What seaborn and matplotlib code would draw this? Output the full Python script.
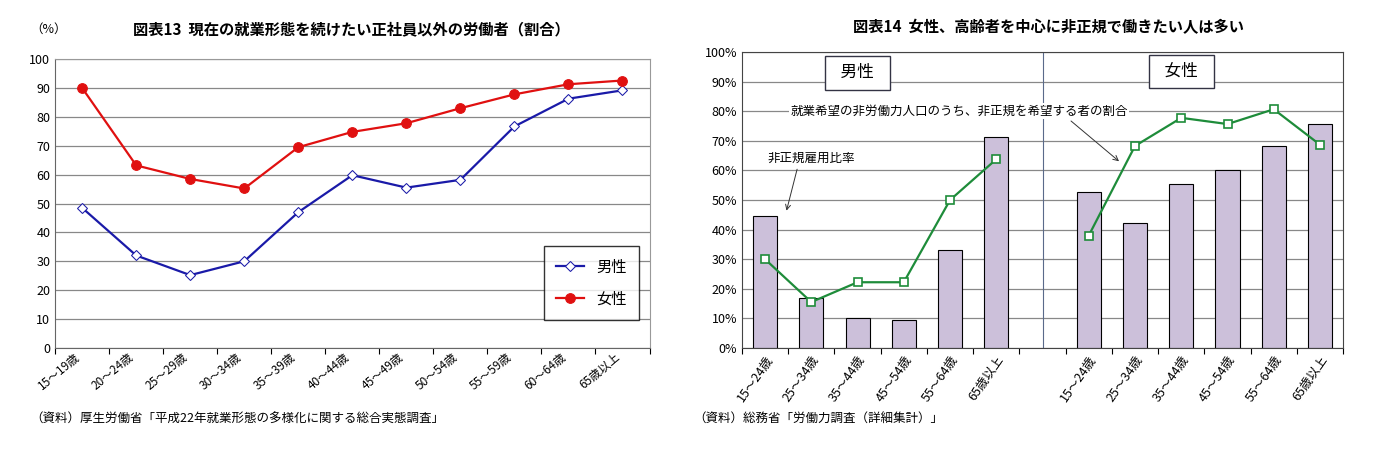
import matplotlib
matplotlib.use("Agg")
import matplotlib.pyplot as plt
import seaborn as sns
import numpy as np
import pandas as pd

plt.rcParams["font.family"] = ["Noto Sans CJK JP", "DejaVu Sans"]

# Left chart data
ages_left = ["15～19歳", "20～24歳", "25～29歳", "30～34歳", "35～39歳", "40～44歳",
             "45～49歳", "50～54歳", "55～59歳", "60～64歳", "65歳以上"]
male_left = [48.5, 32.0, 25.2, 30.0, 47.0, 59.8, 55.5, 58.2, 76.7, 86.3, 89.2]
female_left = [90.0, 63.2, 58.5, 55.2, 69.5, 74.8, 77.8, 83.0, 87.8, 91.3, 92.6]

# Right chart data
ages_right = ["15～24歳", "25～34歳", "35～44歳", "45～54歳", "55～64歳", "65歳以上"]
male_bar = [44.5, 17.0, 10.0, 9.5, 33.0, 71.3]
female_bar = [52.7, 42.2, 55.5, 60.0, 68.3, 75.8]
male_wish = [30.0, 15.5, 22.2, 22.2, 50.0, 63.8]
female_wish = [38.0, 68.3, 77.8, 75.7, 80.7, 68.7]

fig = plt.figure(figsize=(13.79, 4.62), dpi=100)

# ---------- Left ----------
ax1 = fig.add_axes([0.040, 0.247, 0.431, 0.625])
df_l = pd.DataFrame({"x": np.arange(len(ages_left)), "男性": male_left, "女性": female_left})
sns.lineplot(data=df_l, x="x", y="男性", ax=ax1, color="#1a1aa8", marker="D",
             markerfacecolor="white", markeredgecolor="#1a1aa8", markersize=5, lw=1.6, label="男性")
sns.lineplot(data=df_l, x="x", y="女性", ax=ax1, color="#e01010", marker="o",
             markerfacecolor="#e01010", markeredgecolor="#e01010", markersize=7, lw=1.6, label="女性")
ax1.set_xlim(-0.5, len(ages_left) - 0.5)
ax1.set_ylim(0, 100)
ax1.set_yticks(range(0, 101, 10))
ax1.set_xticks(np.arange(len(ages_left) + 1) - 0.5, minor=False)
ax1.set_xticklabels([])
ax1.set_xticks(np.arange(len(ages_left)), minor=True)
ax1.set_xticklabels(ages_left, minor=True, rotation=40, ha="right", fontsize=8.5)
ax1.tick_params(axis="x", which="minor", length=0, pad=2)
ax1.tick_params(axis="x", which="major", length=4, direction="out")
ax1.tick_params(axis="y", labelsize=9, length=0)
ax1.grid(axis="y", color="#888888", lw=0.9)
ax1.set_axisbelow(True)
ax1.set_xlabel(""); ax1.set_ylabel("")
for s in ["top", "right"]:
    ax1.spines[s].set_color("#999999")
ax1.spines["left"].set_color("#666666")
ax1.spines["bottom"].set_color("#666666")
leg = ax1.legend(loc="lower right", bbox_to_anchor=(0.995, 0.07), fontsize=11,
                 frameon=True, fancybox=False, edgecolor="black", handlelength=1.8,
                 labelspacing=1.0, borderpad=0.8)
fig.text(0.022, 0.93, "（%）", fontsize=9)
fig.text(0.255, 0.925, "図表13  現在の就業形態を続けたい正社員以外の労働者（割合）",
         fontsize=11, fontweight="bold", ha="center")
fig.text(0.022, 0.085, "（資料）厚生労働省「平成22年就業形態の多様化に関する総合実態調査」", fontsize=9)

# ---------- Right ----------
ax2 = fig.add_axes([0.538, 0.247, 0.436, 0.640])
cats = ages_right + [""] + ages_right
n = len(cats)
bar_vals = male_bar + [np.nan] + female_bar
df_r = pd.DataFrame({"x": np.arange(n), "v": bar_vals})
sns.barplot(data=df_r, x="x", y="v", ax=ax2, color="#ccc0da", edgecolor="black",
            linewidth=0.8, width=0.52, saturation=1, native_scale=True)
xm = np.arange(6)
xf = np.arange(7, 13)
for xs, ys in [(xm, male_wish), (xf, female_wish)]:
    sns.lineplot(x=xs, y=ys, ax=ax2, color="#1e8c3a", lw=1.6, marker="s",
                 markerfacecolor="white", markeredgecolor="#1e8c3a", markersize=6,
                 markeredgewidth=1.2)
ax2.set_xlim(-0.5, n - 0.5)
ax2.set_ylim(0, 100)
ax2.set_yticks(range(0, 101, 10))
ax2.set_yticklabels([f"{v}%" for v in range(0, 101, 10)], fontsize=9)
ax2.set_xticks(np.arange(n + 1) - 0.5)
ax2.set_xticklabels([])
ax2.set_xticks(np.arange(n), minor=True)
ax2.set_xticklabels(cats, minor=True, rotation=55, ha="right", rotation_mode="anchor", fontsize=9)
ax2.tick_params(axis="x", which="minor", length=0, pad=4)
ax2.tick_params(axis="x", which="major", length=4, direction="out")
ax2.tick_params(axis="y", length=0)
ax2.grid(axis="y", color="#888888", lw=0.9)
ax2.set_axisbelow(True)
ax2.set_xlabel(""); ax2.set_ylabel("")
ax2.axvline(6, color="#5a6a8a", lw=0.8)
for s in ["top", "right", "left", "bottom"]:
    ax2.spines[s].set_color("#444444")
box = dict(boxstyle="square,pad=0.5", facecolor="white", edgecolor="#333344", lw=1)
ax2.text(2.0, 93, "  男性  ", fontsize=12, ha="center", va="center", bbox=box)
ax2.text(9.0, 93.5, "  女性  ", fontsize=12, ha="center", va="center", bbox=box)
ax2.annotate("就業希望の非労働力人口のうち、非正規を希望する者の割合", xy=(7.7, 62.5),
             xytext=(4.2, 80), fontsize=9, ha="center", va="center",
             bbox=dict(facecolor="white", edgecolor="none", pad=1),
             arrowprops=dict(arrowstyle="->", color="#333333", lw=0.7, relpos=(0.82, 0.0)))
ax2.annotate("非正規雇用比率", xy=(0.45, 45.5), xytext=(1.0, 64), fontsize=9,
             ha="center", va="center",
             bbox=dict(facecolor="white", edgecolor="none", pad=1),
             arrowprops=dict(arrowstyle="->", color="#333333", lw=0.7, relpos=(0.35, 0.0)))
fig.text(0.76, 0.93, "図表14  女性、高齢者を中心に非正規で働きたい人は多い",
         fontsize=11, fontweight="bold", ha="center")
fig.text(0.503, 0.085, "（資料）総務省「労働力調査（詳細集計）」", fontsize=9)

fig.savefig("out.png", dpi=100)
